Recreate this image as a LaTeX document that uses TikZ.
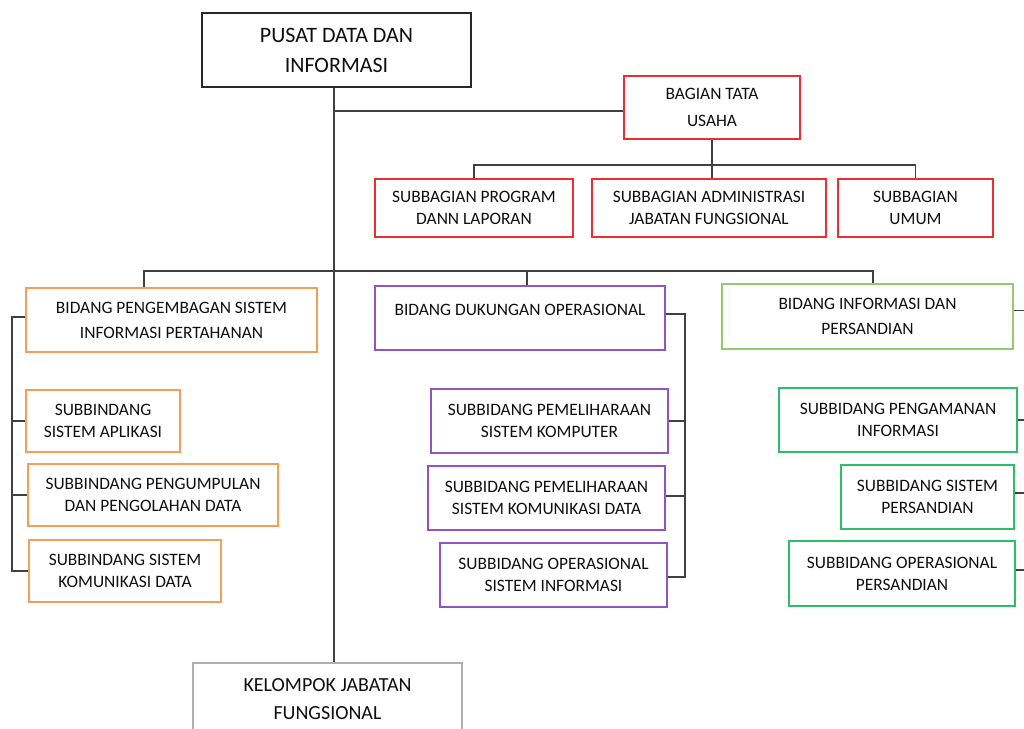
\documentclass[tikz,border=0pt]{standalone}
\usepackage{fontspec}
\setmainfont{Carlito}
\usetikzlibrary{positioning,calc}
\definecolor{linkgray}{RGB}{64,64,64}
\definecolor{textgray}{RGB}{15,15,15}
\definecolor{headline}{RGB}{40,40,40}
\definecolor{tuline}{RGB}{236,45,50}
\definecolor{psiline}{RGB}{245,158,90}
\definecolor{doline}{RGB}{145,85,195}
\definecolor{ipline}{RGB}{150,200,110}
\definecolor{subipline}{RGB}{45,190,105}
\definecolor{fungline}{RGB}{175,175,175}
\tikzset{
  unit/.style={draw, line width=0.75pt, align=center, inner sep=0pt, text=textgray},
  headfont/.style={font=\fontsize{11}{15}\selectfont},
  bidfont/.style={font=\fontsize{8.7}{12.5}\selectfont},
  subfont/.style={font=\fontsize{8.7}{11}\selectfont},
  link/.style={draw=linkgray, line width=0.6pt}
}
\begin{document}
\begin{tikzpicture}[x=0.5pt,y=-0.5pt]
        \useasboundingbox (0,0) rectangle (1024,729);
        % draw head office and staff
        \node[unit, headfont, draw=headline, minimum width=134.5pt, minimum height=37pt] (pusat) at (336.5,50) {PUSAT DATA DAN\\INFORMASI};
        \node[unit, subfont, font=\fontsize{8.7}{13.5}\selectfont, draw=tuline, minimum width=88pt, minimum height=31.5pt] (tu) at (712,107.5) {BAGIAN TATA\\USAHA};
        \node[unit, subfont, draw=tuline, minimum width=99pt, minimum height=29pt] (sbprog) at (474,208) {SUBBAGIAN PROGRAM\\DANN LAPORAN};
        \node[unit, subfont, draw=tuline, minimum width=117pt, minimum height=29pt] (sbadm) at (709,208) {SUBBAGIAN ADMINISTRASI\\JABATAN FUNGSIONAL};
        \node[unit, subfont, draw=tuline, minimum width=77.5pt, minimum height=29pt] (sbumum) at (915.5,208) {SUBBAGIAN\\UMUM};
        
        % draw bidang
        \node[unit, bidfont, draw=psiline, minimum width=145.5pt, minimum height=32pt] (bpsi) at (171.5,320) {BIDANG PENGEMBAGAN SISTEM\\INFORMASI PERTAHANAN};
        \node[unit, bidfont, draw=doline, minimum width=145pt, minimum height=32pt] (bdo) at (520,318) {BIDANG DUKUNGAN OPERASIONAL\\[-8pt]\strut};
        \node[unit, bidfont, draw=ipline, minimum width=145.5pt, minimum height=32.5pt] (bip) at (867.5,316.5) {BIDANG INFORMASI DAN\\PERSANDIAN};
        
        % draw subbidang
        \node[unit, subfont, draw=psiline, minimum width=77pt, minimum height=31pt] (ssa) at (103,421) {SUBBINDANG\\SISTEM APLIKASI};
        \node[unit, subfont, draw=psiline, minimum width=125pt, minimum height=31pt] (spd) at (153,495) {SUBBINDANG PENGUMPULAN\\DAN PENGOLAHAN DATA};
        \node[unit, subfont, draw=psiline, minimum width=96pt, minimum height=31pt] (skd) at (125,571) {SUBBINDANG SISTEM\\KOMUNIKASI DATA};
        \node[unit, subfont, draw=doline, minimum width=118.5pt, minimum height=32pt] (spk) at (549.5,421) {SUBBIDANG PEMELIHARAAN\\SISTEM KOMPUTER};
        \node[unit, subfont, draw=doline, minimum width=118.5pt, minimum height=32pt] (spkd) at (546.5,498) {SUBBIDANG PEMELIHARAAN\\SISTEM KOMUNIKASI DATA};
        \node[unit, subfont, draw=doline, minimum width=113.5pt, minimum height=32pt] (sosi) at (553.5,575) {SUBBIDANG OPERASIONAL\\SISTEM INFORMASI};
        \node[unit, subfont, draw=subipline, minimum width=119pt, minimum height=32pt] (spi) at (898,420) {SUBBIDANG PENGAMANAN\\INFORMASI};
        \node[unit, subfont, draw=subipline, minimum width=86.5pt, minimum height=32pt] (ssp) at (927.5,497) {SUBBIDANG SISTEM\\PERSANDIAN};
        \node[unit, subfont, draw=subipline, minimum width=113pt, minimum height=32.5pt] (sop) at (902,573.5) {SUBBIDANG OPERASIONAL\\PERSANDIAN};
        
        % draw functional group
        \node[unit, font=\fontsize{10}{14}\selectfont, draw=fungline, minimum width=134.5pt, minimum height=36pt] (kjf) at (327.5,699) {KELOMPOK JABATAN\\FUNGSIONAL};
        
        % draw links
        \coordinate (spine) at (334,0);
        \coordinate (tubus) at (0,165);
        \coordinate (mainbus) at (0,271);
        \coordinate (lbrack) at (12,0);
        \coordinate (cbrack) at (685,0);
        \coordinate (rbrack) at (1024,0);
        \path[link] (pusat.south -| spine) -- (kjf.north -| spine);
        \path[link] ([yshift=-1.75pt]tu.west -| spine) -- ([yshift=-1.75pt]tu.west);
        \path[link] (tu.south) -- (tu.south |- sbadm.north);
        \path[link] (sbprog.north) -- (sbprog.north |- tubus) -- (sbumum.north |- tubus) -- (sbumum.north);
        \path[link] ([xshift=-13.75pt]bpsi.north) -- ([xshift=-13.75pt]bpsi.north |- mainbus) -- ([xshift=2.75pt]bip.north |- mainbus) -- ([xshift=2.75pt]bip.north);
        \path[link] ([xshift=3.5pt]bdo.north) -- ([xshift=3.5pt]bdo.north |- mainbus);
        % left bracket
        \path[link] ([yshift=1.5pt]bpsi.west) -- ([yshift=1.5pt]bpsi.west -| lbrack) -- (skd.west -| lbrack) -- (skd.west);
        \path[link] (ssa.west -| lbrack) -- (ssa.west);
        \path[link] (spd.west -| lbrack) -- (spd.west);
        % centre bracket
        \path[link] ([yshift=2pt]bdo.east) -- ([yshift=2pt]bdo.east -| cbrack) -- ([yshift=-1pt]sosi.east -| cbrack) -- ([yshift=-1pt]sosi.east);
        \path[link] (spk.east) -- (spk.east -| cbrack);
        \path[link] ([yshift=1pt]spkd.east) -- ([yshift=1pt]spkd.east -| cbrack);
        % right ticks
        \path[link] ([yshift=3pt]bip.east) -- ([yshift=3pt]bip.east -| rbrack);
        \path[link] (spi.east) -- (spi.east -| rbrack);
        \path[link] ([yshift=2pt]ssp.east) -- ([yshift=2pt]ssp.east -| rbrack);
        \path[link] ([yshift=1.75pt]sop.east) -- ([yshift=1.75pt]sop.east -| rbrack);
\end{tikzpicture}
\end{document}
